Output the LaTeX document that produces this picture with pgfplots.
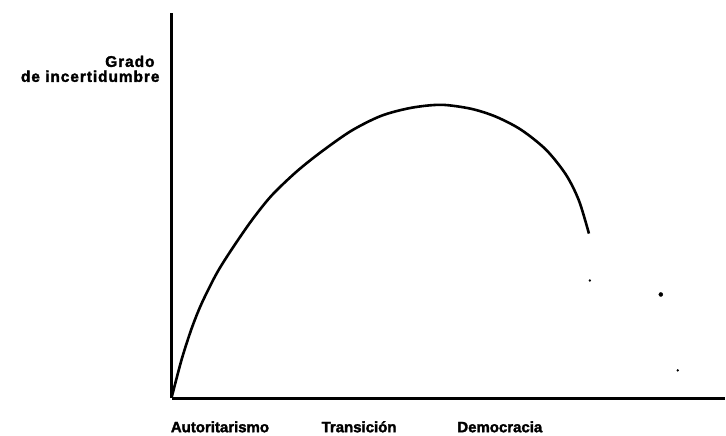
\documentclass[border=0pt]{standalone}
\usepackage{fontspec}
\setmainfont{Liberation Sans}[BoldFeatures={FakeBold=2}]
\newfontfamily\spaced{Liberation Sans}[LetterSpace=6, BoldFeatures={FakeBold=2}]
\usepackage{pgfplots}
\pgfplotsset{compat=1.18}
\begin{document}
\begin{tikzpicture}
\begin{axis}[
  x=1pt, y=1pt,
  xmin=0, xmax=554, ymin=0, ymax=386,
  axis lines=left,
  axis line style={-, line width=2.6pt, black},
  ticks=none,
  clip=false,
]
\addplot[black, line width=2.6pt, smooth] coordinates {
(0,1) (10,39) (20,70) (30,95) (45,125) (60,149) (80,178) (100,203)
(125,227) (150,247) (180,268) (210,283) (240,291) (270,294) (300,290)
(325,282) (350,269) (375,249) (395,224) (408,198) (418,165)
};
\addplot[only marks, mark=*, mark size=1pt, black] coordinates {(419,118) (507,28)};
\addplot[only marks, mark=*, mark size=2pt, black] coordinates {(490,104)};
\path (axis cs:-172,-37) rectangle (axis cs:554,399);
\node[anchor=base east, inner sep=0pt, font=\fontsize{15.5}{17}\spaced\bfseries] at (axis cs:-17,332) {Grado};
\node[anchor=base east, inner sep=0pt, font=\fontsize{15.5}{17}\spaced\bfseries] at (axis cs:-12,317) {de incertidumbre};
\node[anchor=base west, inner sep=0pt, font=\fontsize{15}{17}\bfseries] at (axis cs:-1,-34) {Autoritarismo};
\node[anchor=base west, inner sep=0pt, font=\fontsize{15}{17}\bfseries] at (axis cs:150,-34) {Transición};
\node[anchor=base west, inner sep=0pt, font=\fontsize{15}{17}\bfseries] at (axis cs:286,-34) {Democracia};
\end{axis}
\end{tikzpicture}
\end{document}
